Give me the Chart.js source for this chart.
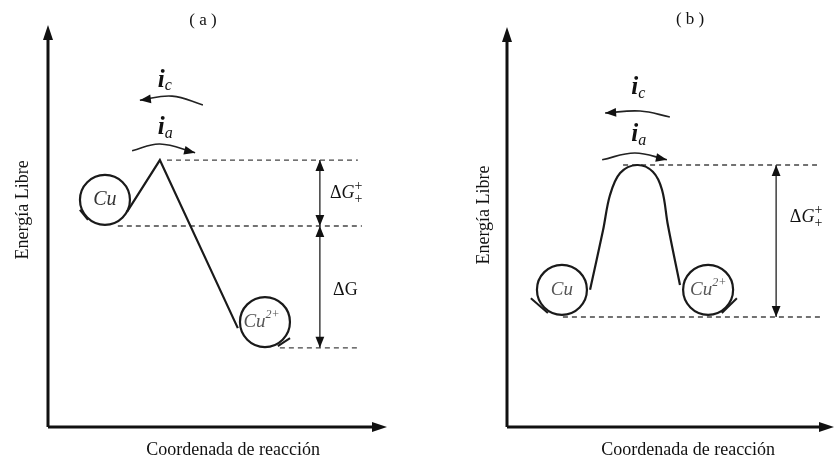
<!DOCTYPE html>
<html>
<head>
<meta charset="utf-8">
<script src="https://cdn.jsdelivr.net/npm/chart.js@4/dist/chart.umd.min.js"></script>
<style>
	body { margin: 0; background: #fff; width: 835px; height: 461px; position: relative; overflow: hidden; }
	.panel { position: absolute; top: 0; }
</style>
</head>
<body>
<div class="panel" style="left:0"><canvas id="grafica-a" width="420" height="461"></canvas></div>
<div class="panel" style="left:420px"><canvas id="grafica-b" width="415" height="461"></canvas></div>
<script>
// coordenada de reaccion (0-100) y energia libre (0-100)
const perfilA = [[23.3, 53.5], [33.0, 66.4], [56.0, 24.6]];
const perfilB = [[25.4, 34.3], [29.4, 49.3], [31.5, 58.0], [34.6, 63.5], [39.8, 65.5], [44.6, 63.8], [47.4, 59.3], [49.2, 50.5], [52.9, 35.5]];
const especiesA = [[16.8, 56.5], [64.0, 26.1]];
const especiesB = [[16.8, 34.3], [61.5, 34.3]];
// trazos cortos al pie de cada circulo
const colasA = [[[9.4, 54.0], [11.8, 51.5]], [[71.4, 22.1], [67.8, 20.1]]];
const colasB = [[[7.3, 32.2], [12.5, 28.5]], [[70.3, 32.2], [65.7, 28.5]]];
// niveles punteados: [desde, hasta, energia]
const nivelesA = [[35.1, 91.4, 66.4], [20.6, 92.6, 50.0], [68.4, 91.4, 19.7]];
const nivelesB = [[35.5, 94.8, 65.5], [17.1, 95.7, 27.5]];
// cotas verticales: [coordenada, energia inicial, energia final]
const cotasA = [[80.2, 66.4, 50.0], [80.2, 50.0, 19.7]];
const cotasB = [[82.3, 65.5, 27.5]];
// flechas curvas de corriente catodica y anodica
const corrienteCatA = [[45.7, 80.1], [36.6, 82.3], [27.1, 81.3]];
const corrienteAnA = [[24.8, 68.7], [33.0, 70.4], [43.4, 68.2]];
const corrienteCatB = [[49.8, 77.5], [40.7, 79.0], [30.0, 78.5]];
const corrienteAnB = [[29.1, 66.8], [39.1, 68.5], [48.9, 66.8]];

const serif = (px, estilo) => (estilo ? estilo + " " : "") + px + 'px "Liberation Serif"';
const puntos = (lista) => lista.map((p) => ({ x: p[0], y: p[1] }));

function punta(ctx, x, y, ang, largo, ancho) {
	ctx.save();
	ctx.translate(x, y);
	ctx.rotate(ang);
	ctx.beginPath();
	ctx.moveTo(0, 0);
	ctx.lineTo(-largo, -ancho);
	ctx.lineTo(-largo, ancho);
	ctx.closePath();
	ctx.fill();
	ctx.restore();
}

function escribir(ctx, px, py, t) {
	ctx.save();
	ctx.translate(px, py);
	if (t.rot) ctx.rotate(t.rot);
	ctx.textBaseline = "middle";
	let w = 0;
	t.partes.forEach((p) => {
		ctx.font = p.f;
		if (p.avanza !== false) w += ctx.measureText(p.t).width;
	});
	let cx = t.centro ? -w / 2 : 0;
	t.partes.forEach((p) => {
		ctx.font = p.f;
		ctx.fillStyle = p.c || "#111";
		ctx.fillText(p.t, cx, p.dy || 0);
		if (p.avanza !== false) cx += ctx.measureText(p.t).width;
	});
	ctx.restore();
}

const diagrama = {
	id: "diagrama",
	afterDatasetsDraw(chart, args, opts) {
		const { ctx, chartArea: a, scales } = chart;
		ctx.save();
		ctx.strokeStyle = "#111";
		ctx.fillStyle = "#111";
		// ejes con flecha
		ctx.lineWidth = 3;
		ctx.beginPath();
		ctx.moveTo(a.left, a.bottom);
		ctx.lineTo(a.left, a.top + 8);
		ctx.moveTo(a.left, a.bottom);
		ctx.lineTo(a.right - 8, a.bottom);
		ctx.stroke();
		punta(ctx, a.left, a.top, -Math.PI / 2, 15, 5);
		punta(ctx, a.right, a.bottom, 0, 15, 5);
		// puntas de flecha de los datasets
		chart.data.datasets.forEach((ds, i) => {
			if (!ds.flecha) return;
			const el = chart.getDatasetMeta(i).data;
			const n = el.length;
			const ult = el[n - 1], ant = el[n - 2];
			let bx = ant.x, by = ant.y;
			if (ult.cp1x !== undefined && (ult.cp1x !== ult.x || ult.cp1y !== ult.y)) { bx = ult.cp1x; by = ult.cp1y; }
			punta(ctx, ult.x, ult.y, Math.atan2(ult.y - by, ult.x - bx), ds.tamPunta, ds.tamPunta * 0.4);
			if (ds.flecha === "ambas") {
				punta(ctx, el[0].x, el[0].y, Math.atan2(el[0].y - el[1].y, el[0].x - el[1].x), ds.tamPunta, ds.tamPunta * 0.4);
			}
		});
		opts.textos.forEach((t) => escribir(ctx, scales.x.getPixelForValue(t.x), scales.y.getPixelForValue(t.y), t));
		ctx.restore();
	},
};

function crearDatasets(perfil, especies, colas, niveles, cotas, catodica, anodica) {
	const ds = [];
	ds.push({ data: puntos(perfil), borderColor: "#1a1a1a", borderWidth: 2.2, pointRadius: 0, showLine: true, tension: perfil.length > 3 ? 0.35 : 0 });
	ds.push({ data: puntos(especies), pointRadius: 25, pointBorderWidth: 2.2, pointBorderColor: "#1a1a1a", pointBackgroundColor: "rgba(0,0,0,0)", showLine: false });
	colas.forEach((c) => {
		ds.push({ data: puntos(c), borderColor: "#1a1a1a", borderWidth: 2, pointRadius: 0, showLine: true });
	});
	niveles.forEach((nv) => {
		ds.push({ data: [{ x: nv[0], y: nv[2] }, { x: nv[1], y: nv[2] }], borderColor: "#444", borderWidth: 1.3, borderDash: [5, 4], pointRadius: 0, showLine: true });
	});
	cotas.forEach((c) => {
		ds.push({ data: [{ x: c[0], y: c[1] }, { x: c[0], y: c[2] }], borderColor: "#222", borderWidth: 1.3, pointRadius: 0, showLine: true, flecha: "ambas", tamPunta: 11 });
	});
	[catodica, anodica].forEach((arco) => {
		ds.push({ data: puntos(arco), borderColor: "#222", borderWidth: 1.6, pointRadius: 0, showLine: true, tension: 0.4, flecha: "fin", tamPunta: 11 });
	});
	return ds;
}

function deltaMas(x, y) {
	return {
		x: x, y: y, partes: [
			{ t: "Δ", f: serif(18) },
			{ t: "G", f: serif(18, "italic") },
			{ t: "+", f: serif(14), dy: -7, avanza: false },
			{ t: "+", f: serif(14), dy: 6 },
		],
	};
}

function corriente(x, y, sub) {
	return { x: x, y: y, partes: [{ t: "i", f: serif(25, "italic bold") }, { t: sub, f: serif(16, "italic"), dy: 6 }] };
}

function crearGrafica(id, datasets, padding, textos) {
	return new Chart(document.getElementById(id), {
		type: "scatter",
		data: { datasets: datasets },
		options: {
			responsive: false,
			animation: false,
			devicePixelRatio: 1,
			events: [],
			layout: { padding: padding, autoPadding: false },
			elements: { line: { clip: false } },
			clip: false,
			scales: {
				x: { type: "linear", min: 0, max: 100, display: false },
				y: { type: "linear", min: 0, max: 100, display: false },
			},
			plugins: {
				legend: { display: false },
				tooltip: { enabled: false },
				diagrama: { textos: textos },
			},
		},
		plugins: [diagrama],
	});
}

crearGrafica("grafica-a",
	crearDatasets(perfilA, especiesA, colasA, nivelesA, cotasA, corrienteCatA, corrienteAnA),
	{ left: 48, top: 25, right: 33, bottom: 34 },
	[
		{ x: 45.7, y: 101.2, centro: true, partes: [{ t: "( a )", f: serif(17) }] },
		{ x: 54.6, y: -5.7, centro: true, partes: [{ t: "Coordenada de reacción", f: serif(18) }] },
		{ x: -7.4, y: 54.0, centro: true, rot: -Math.PI / 2, partes: [{ t: "Energía Libre", f: serif(18) }] },
		deltaMas(83.2, 58.2),
		{ x: 84.1, y: 34.1, partes: [{ t: "ΔG", f: serif(18) }] },
		{ x: 16.8, y: 56.5, centro: true, partes: [{ t: "Cu", f: serif(20, "italic"), c: "#333" }] },
		{ x: 63.0, y: 26.1, centro: true, partes: [{ t: "Cu", f: serif(19, "italic"), c: "#555" }, { t: "2+", f: serif(12, "italic"), dy: -7, c: "#555" }] },
		corriente(32.4, 86.3, "c"),
		corriente(32.4, 74.4, "a"),
	]);

crearGrafica("grafica-b",
	crearDatasets(perfilB, especiesB, colasB, nivelesB, cotasB, corrienteCatB, corrienteAnB),
	{ left: 87, top: 27, right: 1, bottom: 34 },
	[
		{ x: 56.0, y: 101.75, centro: true, partes: [{ t: "( b )", f: serif(17) }] },
		{ x: 55.4, y: -5.75, centro: true, partes: [{ t: "Coordenada de reacción", f: serif(18) }] },
		{ x: -7.0, y: 53.0, centro: true, rot: -Math.PI / 2, partes: [{ t: "Energía Libre", f: serif(18) }] },
		deltaMas(86.5, 52.5),
		{ x: 16.8, y: 34.3, centro: true, partes: [{ t: "Cu", f: serif(19, "italic"), c: "#555" }] },
		{ x: 61.5, y: 34.3, centro: true, partes: [{ t: "Cu", f: serif(19, "italic"), c: "#555" }, { t: "2+", f: serif(12, "italic"), dy: -7, c: "#555" }] },
		corriente(38.0, 84.8, "c"),
		corriente(38.0, 73.0, "a"),
	]);
</script>
</body>
</html>
